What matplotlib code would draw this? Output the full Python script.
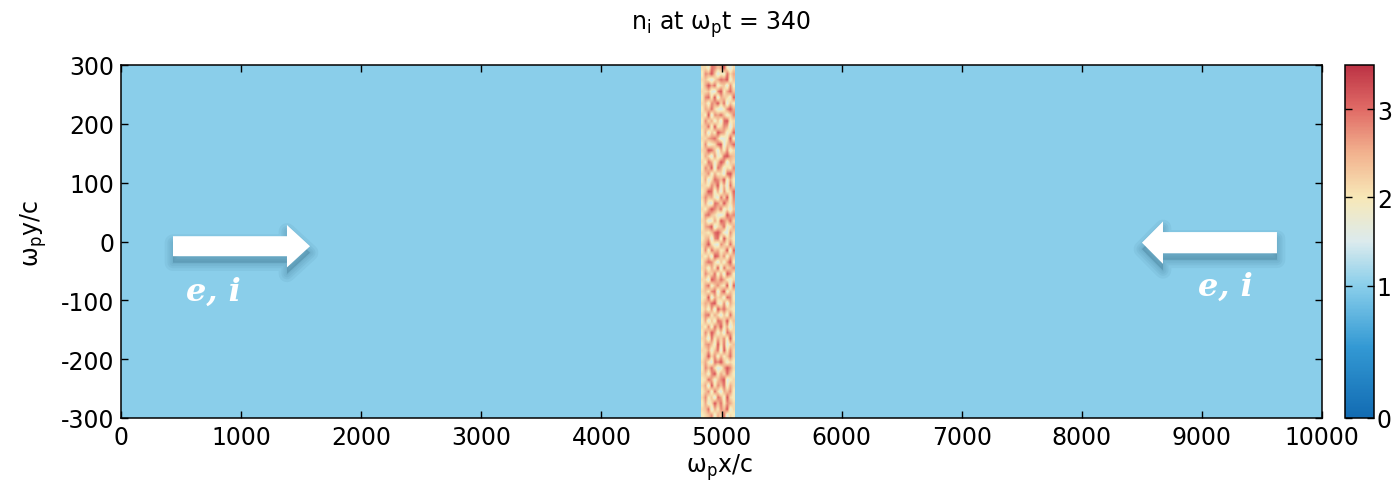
import numpy as np
import matplotlib
matplotlib.use("Agg")
import matplotlib.pyplot as plt
from matplotlib.colors import LinearSegmentedColormap, Normalize
from matplotlib.patches import Polygon

plt.rcParams['font.family'] = ['DejaVu Sans']
plt.rcParams['mathtext.default'] = 'regular'
plt.rcParams['axes.unicode_minus'] = False

# ---------------- data ----------------
x_range = [0, 10000]
y_range = [-300, 300]
background_density = 1.0
stripe_x = [4830, 5105]
time_value = 340
x_ticks = [0, 1000, 2000, 3000, 4000, 5000, 6000, 7000, 8000, 9000, 10000]
y_ticks = [-300, -200, -100, 0, 100, 200, 300]
cbar_ticks = [-0.5, 1, 2, 3]
cbar_ticklabels = ['0', '1', '2', '3']
c_range = [-0.5, 3.5]

# density levels in the shock stripe (digit d -> 1.3 + 0.21*d), read as estimates
stripe_rows = [
    "34572648143", "45816375924", "36249583764", "47351862943", "35728416573",
    "46193758264", "34862579134", "45279364853", "37584126974", "46318795243",
    "35947263584", "44625819374", "36752938145", "45183647293", "37496251864",
    "43728593614", "36152874935", "47836415284", "35271968543", "46589327164",
    "34916452873", "45378169254", "36825743918", "44197586324", "37548261973",
    "45263918457", "36874152693", "43519847265", "37285634918", "46942175384",
    "35617829453", "44358962174", "36791458236", "45126397584", "37854213967",
    "43697582415", "36218749536", "47563184927", "35982617348", "44375926184",
    "36148759263", "45726341895", "37591862437", "43862597154", "36417238965",
    "45985163724", "37234891568", "44678512393", "36153976248", "45829347615",
    "37462518934", "43917685247", "36584213796", "45276948153", "37839165428",
    "44521793685", "36968245173", "45314687925", "37695132846", "44287569314",
]
stripe_vals = np.array([[1.3 + 0.21 * int(ch) for ch in row] for row in stripe_rows])

# ---------------- colormap ----------------
cpts = [(-0.5, (0.07, 0.42, 0.70)),
        (0.3, (0.20, 0.60, 0.83)),
        (1.0, (0.54, 0.81, 0.92)),
        (1.5, (0.86, 0.92, 0.93)),
        (2.0, (0.97, 0.91, 0.72)),
        (2.5, (0.95, 0.70, 0.56)),
        (3.0, (0.88, 0.42, 0.40)),
        (3.5, (0.74, 0.20, 0.27))]
cmap = LinearSegmentedColormap.from_list(
    'dens', [((v - c_range[0]) / (c_range[1] - c_range[0]), c) for v, c in cpts])
norm = Normalize(vmin=c_range[0], vmax=c_range[1])

W, H = 1392, 485
fig = plt.figure(figsize=(W / 100, H / 100), dpi=100)
ax = fig.add_axes([121 / W, 1 - 419 / H, 1201 / W, 353 / H])
cax = fig.add_axes([1345 / W, 1 - 419 / H, 29 / W, 353 / H])

ax.imshow([[background_density]], extent=[x_range[0], x_range[1], y_range[0], y_range[1]],
          cmap=cmap, norm=norm, aspect='auto', origin='lower', zorder=0)
im = ax.imshow(stripe_vals, extent=[stripe_x[0], stripe_x[1], y_range[0], y_range[1]],
               cmap=cmap, norm=norm, aspect='auto', origin='lower',
               interpolation='bilinear', zorder=1)
ax.set_xlim(x_range)
ax.set_ylim(y_range)
ax.set_xticks(x_ticks)
ax.set_yticks(y_ticks)
ax.tick_params(direction='in', length=5, width=1, labelsize=17, top=True, right=True,
               colors='black')
ax.tick_params(axis='x', pad=5)
ax.tick_params(axis='y', pad=5)
for s in ax.spines.values():
    s.set_linewidth(1.1)

# arrows (annotation)
def arrow_poly(x_tail, x_base, x_tip, yc, sh, hh):
    return [(x_tail, yc - sh), (x_base, yc - sh), (x_base, yc - hh), (x_tip, yc),
            (x_base, yc + hh), (x_base, yc + sh), (x_tail, yc + sh)]

def draw_arrow(x_tail, x_base, x_tip, yc, sh, hh):
    pts = arrow_poly(x_tail, x_base, x_tip, yc, sh, hh)
    shadow = [(px, py - 11) for px, py in pts]
    for lw in [12, 8, 5, 2]:
        ax.add_patch(Polygon(shadow, closed=True, facecolor=(0.2, 0.42, 0.52),
                             edgecolor=(0.2, 0.42, 0.52), linewidth=lw, alpha=0.08,
                             joinstyle='round', zorder=3))
    ax.add_patch(Polygon(pts, closed=True, facecolor='white', edgecolor='none', zorder=4))

draw_arrow(433, 1382, 1574, -8, 17, 36)
draw_arrow(9625, 8676, 8501, -2, 18, 36)

ax.text(766, -84, 'e, i', color='white', fontsize=23, family='DejaVu Serif',
        style='italic', weight='bold', ha='center', va='center', zorder=5)
ax.text(9195, -76, 'e, i', color='white', fontsize=23, family='DejaVu Serif',
        style='italic', weight='bold', ha='center', va='center', zorder=5)

# colorbar
cb = fig.colorbar(im, cax=cax)
cb.set_ticks(cbar_ticks)
cb.set_ticklabels(cbar_ticklabels)
cax.tick_params(direction='in', length=5, width=1, labelsize=17, pad=2, left=True, right=True)
cb.outline.set_linewidth(1.1)

fig.text(721 / W, 1 - 25 / H, r'n$_i$ at $\omega_p$t = %d' % time_value,
         fontsize=17, ha='center', va='center')
fig.text(719 / W, 1 - 468 / H, r'$\omega_p$x/c', fontsize=17, ha='center', va='center')
fig.text(34 / W, 1 - 234 / H, r'$\omega_p$y/c', fontsize=17, ha='center', va='center',
         rotation=90)

fig.savefig('out.png', dpi=100)
